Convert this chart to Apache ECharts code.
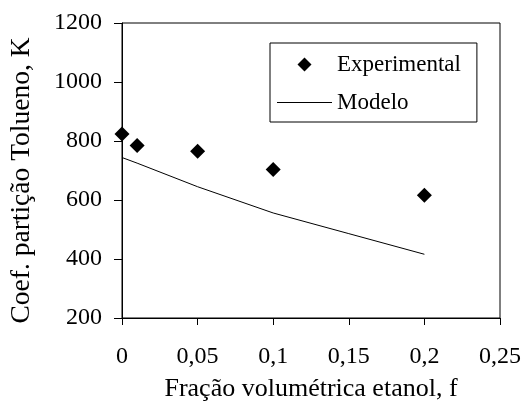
<!DOCTYPE html>
<html>
<head>
<meta charset="utf-8">
<script src="https://cdn.jsdelivr.net/npm/echarts@6/dist/echarts.min.js"></script>
<style>
  html, body { margin: 0; padding: 0; background: #fff; }
  #chart { width: 525px; height: 407px; }
</style>
</head>
<body>
<div id="chart"></div>
<script>
// Experimental partition coefficients
const fExp = [0, 0.01, 0.05, 0.1, 0.2];
const kExp = [824, 785, 765, 703, 616];
// Model curve
const fModel = [0, 0.01, 0.05, 0.1, 0.15, 0.2];
const kModel = [744, 725, 645, 556, 486, 416];
// Axis settings
const xTicks = [0, 0.05, 0.1, 0.15, 0.2, 0.25];
const yMin = 200, yMax = 1200, yStep = 200;

const FONT = 'Liberation Serif';

const chart = echarts.init(document.getElementById('chart'), null, { renderer: 'canvas' });

chart.setOption({
  animation: false,
  backgroundColor: '#fff',
  grid: {
    left: 120, right: 25, top: 23, bottom: 86,
    show: true, borderColor: '#000', borderWidth: 1
  },
  legend: {
    orient: 'vertical',
    left: 270, top: 43,
    padding: [10, 16, 8, 7],
    itemWidth: 55, itemHeight: 14,
    itemGap: 15,
    itemTextGap: 6,
    borderColor: '#000', borderWidth: 1,
    textStyle: { fontFamily: FONT, fontSize: 23, color: '#000' },
    data: [
      { name: 'Experimental', icon: 'path://M0,-1L1,0L0,1L-1,0Z' },
      { name: 'Modelo', icon: 'path://M0,0L55,0L55,1L0,1Z' }
    ]
  },
  xAxis: {
    type: 'value',
    min: xTicks[0], max: xTicks[xTicks.length - 1], interval: 0.05,
    name: 'Fração volumétrica etanol, f',
    nameLocation: 'middle', nameGap: 58,
    nameTextStyle: { fontFamily: FONT, fontSize: 26, color: '#000' },
    axisLine: { lineStyle: { color: '#000', width: 1 } },
    axisTick: { show: true, inside: false, length: 7, lineStyle: { color: '#000' } },
    axisLabel: {
      fontFamily: FONT, fontSize: 24, color: '#000', margin: 27,
      formatter: v => String(+v.toFixed(2)).replace('.', ',')
    },
    splitLine: { show: false }
  },
  yAxis: {
    type: 'value',
    min: yMin, max: yMax, interval: yStep,
    name: 'Coef. partição Tolueno, K',
    nameLocation: 'middle', nameGap: 86,
    nameTextStyle: { fontFamily: FONT, fontSize: 27.5, color: '#000', padding: [0, 20, 0, 0] },
    axisLine: { show: true, lineStyle: { color: '#000', width: 1 } },
    axisTick: { show: true, inside: false, length: 8, lineStyle: { color: '#000' } },
    axisLabel: { fontFamily: FONT, fontSize: 24, color: '#000', margin: 20, formatter: v => String(v) },
    splitLine: { show: false }
  },
  series: [
    {
      name: 'Experimental',
      type: 'scatter',
      symbol: 'diamond',
      symbolSize: 15,
      itemStyle: { color: '#000', opacity: 1 },
      data: fExp.map((f, i) => [f, kExp[i]])
    },
    {
      name: 'Modelo',
      type: 'line',
      symbol: 'none',
      lineStyle: { color: '#000', width: 1 },
      itemStyle: { color: '#000' },
      data: fModel.map((f, i) => [f, kModel[i]])
    }
  ]
});
</script>
</body>
</html>
